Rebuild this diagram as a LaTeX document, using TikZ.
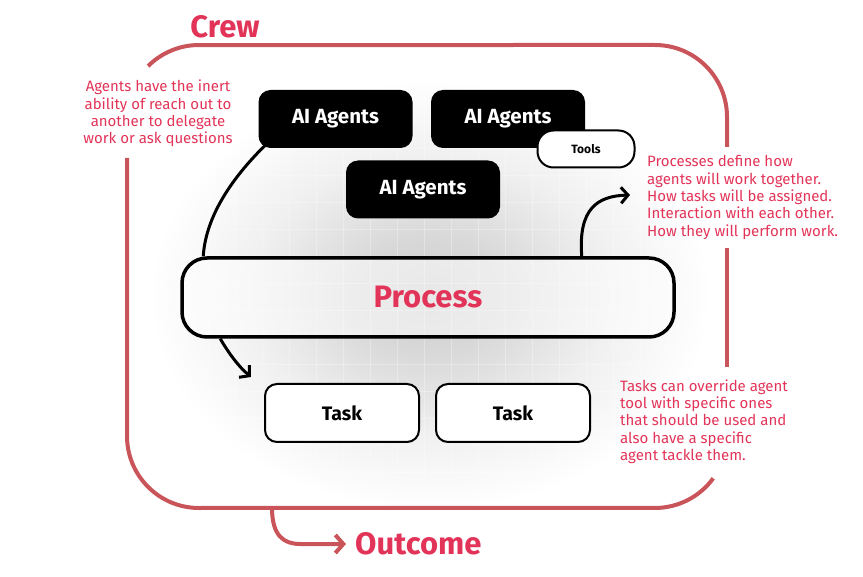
\documentclass[tikz,border=0pt]{standalone}
\usepackage{fontspec}
\setmainfont{Fira Sans}
\usetikzlibrary{arrows.meta}
\definecolor{framered}{RGB}{201,85,90}
\definecolor{textred}{RGB}{226,52,88}
\pgfdeclareradialshading{glow}{\pgfpoint{0bp}{0bp}}{color(0bp)=(black!20); color(7bp)=(black!15); color(16bp)=(black!6); color(25bp)=(white); color(50bp)=(white)}
\tikzset{
  agentbox/.style={fill=black, rounded corners=12pt, minimum width=154pt, minimum height=58pt, text=white, font=\bfseries\fontsize{20.5}{24}\selectfont, inner sep=0pt},
  toolbox/.style={fill=white, draw=black, line width=2pt, rounded corners=16pt, minimum width=97pt, minimum height=37pt, font=\bfseries\fontsize{12}{14}\selectfont, inner sep=0pt},
  procbox/.style={fill=white, fill opacity=0.55, text opacity=1, draw=black, draw opacity=1, line width=3.5pt, rounded corners=25pt, minimum width=492pt, minimum height=79pt, text=textred, font=\bfseries\fontsize{31}{35}\selectfont, inner sep=0pt},
  taskbox/.style={fill=white, draw=black, line width=2pt, rounded corners=12pt, minimum width=154pt, minimum height=58pt, font=\bfseries\fontsize{19.5}{22}\selectfont, inner sep=0pt},
  bigred/.style={text=textred, font=\bfseries\fontsize{31}{35}\selectfont, inner sep=0pt},
  note/.style={text=textred, font=\fontsize{15}{17.3}\selectfont, inner sep=0pt},
  frameline/.style={draw=framered, line width=4pt},
  blackarrow/.style={draw=black, line width=3pt, -{Straight Barb[length=7pt,width=16pt,line width=3pt]}},
  blackline/.style={draw=black, line width=3pt},
  redarrow/.style={draw=framered, line width=4pt, -{Straight Barb[length=8pt,width=18pt,line width=4pt]}}
}
\begin{document}
\begin{tikzpicture}[x=1pt,y=-1pt]
\useasboundingbox (0,0) rectangle (863,577);
\begin{scope}
  \clip (0,0) rectangle (863,577);
  \shade[shading=glow] (430,295) ellipse [x radius=280, y radius=215];
  \clip (430,295) ellipse [x radius=260, y radius=200];
  \foreach \gx in {154,181,...,720} \draw[white, opacity=0.3, line width=1pt] (\gx,90) -- (\gx,500);
  \foreach \gy in {95,122,...,500} \draw[white, opacity=0.3, line width=1pt] (160,\gy) -- (700,\gy);
\end{scope}

% crew frame
\draw[frameline] (148.1,66.1) arc[start angle=225, end angle=270, radius=72] -- (655,45)
  arc[start angle=270, end angle=360, radius=72] -- (727,147);
\draw[frameline] (727,248) -- (727,367);
\draw[frameline] (713.2,478.3) arc[start angle=36, end angle=90, radius=72] -- (199,508)
  arc[start angle=90, end angle=180, radius=72] -- (127,158);

\node[bigred] (crew) at (225,27) {Crew};
\node[bigred, anchor=west] (outcome) at (355,544) {Outcome};
\coordinate (framebottom) at (272,508);
\draw[redarrow] (framebottom) .. controls (272,536) and (284,544) .. (300,544) -- ([xshift=-9pt]outcome.west);

% agents
\node[agentbox] (a1) at (335.5,119) {AI Agents};
\node[agentbox] (a2) at (508,119) {AI Agents};
\node[agentbox] (a3) at (423,189.5) {AI Agents};
\node[toolbox] (tools) at (586,149) {Tools};

% process
\node[procbox] (proc) at (428,297.5) {Process};

% tasks
\node[taskbox] (t1) at (342,413) {Task};
\node[taskbox] (t2) at (513,413) {Task};

% black connectors
\draw[blackline] ([xshift=7pt,yshift=3pt]a1.south west) .. controls (238,172) and (206,212) .. ([xshift=23pt]proc.north west);
\coordinate (taskarrow) at (251,377);
\draw[blackarrow] ([xshift=40pt]proc.south west) .. controls (228,352) and (238,366) .. (taskarrow);
\coordinate (procarrow) at (630,195);
\draw[blackarrow] ([xshift=-94pt]proc.north east) .. controls (578,208) and (598,196) .. (procarrow);

% notes
\node[note, align=center] (n1) at (158,113.5) {Agents have the inert\\ability of reach out to\\another to delegate\\work or ask questions};
\node[note, align=left, anchor=west] (n2) at (647,197.5) {Processes define how\\agents will work together.\\How tasks will be assigned.\\Interaction with each other.\\How they will perform work.};
\node[note, align=left, anchor=west] (n3) at (620,421.5) {Tasks can override agent\\tool with specific ones\\that should be used and\\also have a specific\\agent tackle them.};
\end{tikzpicture}
\end{document}
